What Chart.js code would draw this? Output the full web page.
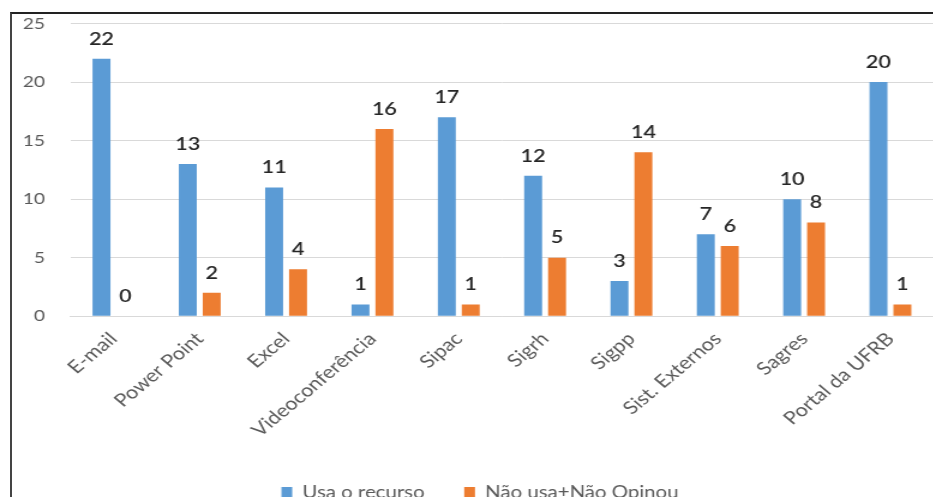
<!DOCTYPE html>
<html>
<head>
<meta charset="utf-8">
<script src="https://cdn.jsdelivr.net/npm/chart.js@4.4.1/dist/chart.umd.min.js"></script>
<style>
  body { margin: 0; background: #fff; }
  .frame {
    position: absolute; left: 10px; top: 12px;
    width: 923px; height: 485px;
    border-top: 2px solid #222; border-left: 2px solid #444;
    overflow: hidden;
  }
  /* the reference picture is stretched sideways, so stretch the canvas the same way */
  canvas { display: block; transform: scaleX(1.2); transform-origin: 0 0; }
</style>
</head>
<body>
<div class="frame"><canvas id="chart" width="768" height="497"></canvas></div>
<script>
// categories and series
const categories = ['E-mail', 'Power Point', 'Excel', 'Videoconferência', 'Sipac', 'Sigrh', 'Sigpp', 'Sist. Externos', 'Sagres', 'Portal da UFRB'];
const usaRecurso = [22, 13, 11, 1, 17, 12, 3, 7, 10, 20];
const naoUsa = [0, 2, 4, 16, 1, 5, 14, 6, 8, 1];
const yTicks = [0, 5, 10, 15, 20, 25];

// draw the value above every bar
const valueLabels = {
  id: 'valueLabels',
  afterDatasetsDraw(chart) {
    const ctx = chart.ctx;
    ctx.save();
    ctx.font = '600 18px Lato';
    ctx.fillStyle = '#262626';
    ctx.textAlign = 'center';
    ctx.textBaseline = 'bottom';
    chart.data.datasets.forEach((ds, i) => {
      chart.getDatasetMeta(i).data.forEach((bar, j) => {
        ctx.fillText(ds.data[j], bar.x, bar.y - 11);
      });
    });
    ctx.restore();
  }
};

const myChart = new Chart(document.getElementById('chart'), {
  type: 'bar',
  data: {
    labels: categories,
    datasets: [{
      label: 'Usa o recurso',
      data: usaRecurso,
      backgroundColor: '#5b9bd5'
    }, {
      label: 'Não usa+Não Opinou',
      data: naoUsa,
      backgroundColor: '#ed7d31'
    }]
  },
  options: {
    responsive: false,
    animation: false,
    categoryPercentage: 0.554,
    barPercentage: 0.75,
    layout: { padding: { left: 9, right: -3, top: 2, bottom: 0 } },
    plugins: {
      tooltip: { enabled: false },
      legend: {
        position: 'bottom',
        labels: {
          boxWidth: 9, boxHeight: 11, padding: 33,
          color: '#595959',
          font: { family: 'Lato', size: 17 }
        }
      }
    },
    scales: {
      x: {
        grid: { display: false },
        border: { color: '#d9d9d9' },
        ticks: {
          color: '#595959', font: { family: 'Lato', size: 18 },
          minRotation: 45, maxRotation: 45, padding: 4
        },
        afterFit(scale) { scale.height += 6; }
      },
      y: {
        min: 0, max: 25,
        afterBuildTicks(scale) { scale.ticks = yTicks.map(v => ({ value: v })); },
        grid: { color: '#d9d9d9', tickLength: 21, tickColor: 'rgba(0,0,0,0)' },
        border: { display: false },
        ticks: { color: '#595959', font: { family: 'Lato', size: 16 }, padding: 0 }
      }
    }
  },
  plugins: [valueLabels]
});
</script>
</body>
</html>
